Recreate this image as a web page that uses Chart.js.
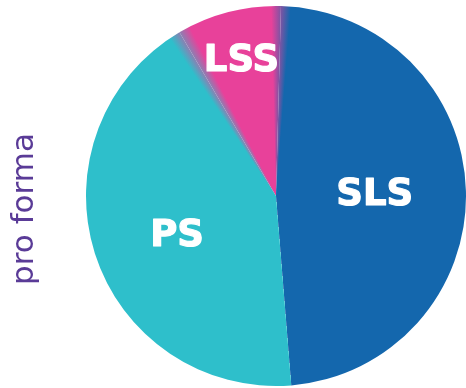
<!DOCTYPE html>
<html>
<head>
<meta charset="utf-8">
<script src="https://cdn.jsdelivr.net/npm/chart.js@4.4.1/dist/chart.umd.min.js"></script>
<style>
  html, body { margin: 0; padding: 0; background: #fff; }
  canvas { display: block; }
</style>
</head>
<body>
<canvas id="pie" width="466" height="388"></canvas>
<script>
const segments = ['SLS', 'PS', 'LSS'];
const shares = [48.3, 42.8, 8.9];
const segmentColors = ['#1467ad', '#2ebfcb', '#e8419a'];
const sideCaption = 'pro forma';

const startDeg = 1.5;   // first slice starts just right of 12 o'clock
const blendLeft = 3.5;  // soft edge half-width PS -> LSS
const blendRight = 3;   // soft edge half-width LSS -> SLS

// one conic gradient for the whole pie: hard edge SLS/PS, soft edges on both sides of LSS
function conicFill(chart) {
    const area = chart.chartArea;
    const cx = (area.left + area.right) / 2;
    const cy = (area.top + area.bottom) / 2;
    const total = shares.reduce((a, b) => a + b, 0);
    const b1 = startDeg + 360 * shares[0] / total;   // SLS -> PS
    const b2 = b1 + 360 * shares[1] / total;         // PS -> LSS
    const b3 = startDeg + 360;                       // LSS -> SLS
    const s = b2 - blendLeft;
    const g = chart.ctx.createConicGradient((s - 90) * Math.PI / 180, cx, cy);
    const at = d => (d - s) / 360;
    g.addColorStop(0, segmentColors[1]);
    g.addColorStop(at(b2 + blendLeft), segmentColors[2]);
    g.addColorStop(at(b3 - blendRight), segmentColors[2]);
    g.addColorStop(at(b3 + blendRight), segmentColors[0]);
    g.addColorStop(at(b1 + 360), segmentColors[0]);
    g.addColorStop(at(b1 + 360), segmentColors[1]);
    g.addColorStop(1, segmentColors[1]);
    return g;
}

// [fraction of radius, angle nudge in degrees] for each slice label
const labelPlacement = [[0.52, -0.8], [0.556, -3], [0.75, 0.5]];

const sliceLabels = {
    id: 'sliceLabels',
    afterDatasetsDraw(chart) {
        const { ctx } = chart;
        const arcs = chart.getDatasetMeta(0).data;
        ctx.save();
        ctx.fillStyle = '#ffffff';
        ctx.strokeStyle = '#ffffff';
        ctx.lineWidth = 1.2;
        ctx.lineJoin = 'round';
        ctx.font = 'bold 37px "DejaVu Sans"';
        ctx.textAlign = 'center';
        ctx.textBaseline = 'alphabetic';
        arcs.forEach((arc, i) => {
            const p = arc.getProps(['x', 'y', 'startAngle', 'endAngle', 'outerRadius'], true);
            const [frac, shift] = labelPlacement[i];
            const a = (p.startAngle + p.endAngle) / 2 + shift * Math.PI / 180;
            const r = p.outerRadius * frac;
            const x = p.x + Math.cos(a) * r;
            const y = p.y + Math.sin(a) * r + 13;
            ctx.fillText(segments[i], x, y);
            ctx.strokeText(segments[i], x, y);
        });
        ctx.restore();
    }
};

const sideText = {
    id: 'sideText',
    afterDraw(chart) {
        const { ctx } = chart;
        ctx.save();
        ctx.translate(33, 209);
        ctx.rotate(-Math.PI / 2);
        ctx.fillStyle = '#5a3b97';
        ctx.font = '31px "DejaVu Sans"';
        ctx.textAlign = 'center';
        ctx.textBaseline = 'alphabetic';
        ctx.fillText(sideCaption, 0, 0);
        ctx.restore();
    }
};

const chart = new Chart(document.getElementById('pie'), {
    type: 'pie',
    data: {
        labels: segments,
        datasets: [{
            data: shares,
            backgroundColor: segmentColors,
            borderWidth: 0
        }]
    },
    options: {
        responsive: false,
        animation: false,
        events: [],
        rotation: startDeg,
        layout: { padding: { left: 86, top: 6, right: 0, bottom: 2 } },
        plugins: {
            legend: { display: false },
            tooltip: { enabled: false }
        }
    },
    plugins: [sliceLabels, sideText]
});

// once the layout is known, swap the flat colours for the shared conic fill
const fill = conicFill(chart);
chart.data.datasets[0].backgroundColor = segments.map(() => fill);
chart.update('none');
</script>
</body>
</html>
